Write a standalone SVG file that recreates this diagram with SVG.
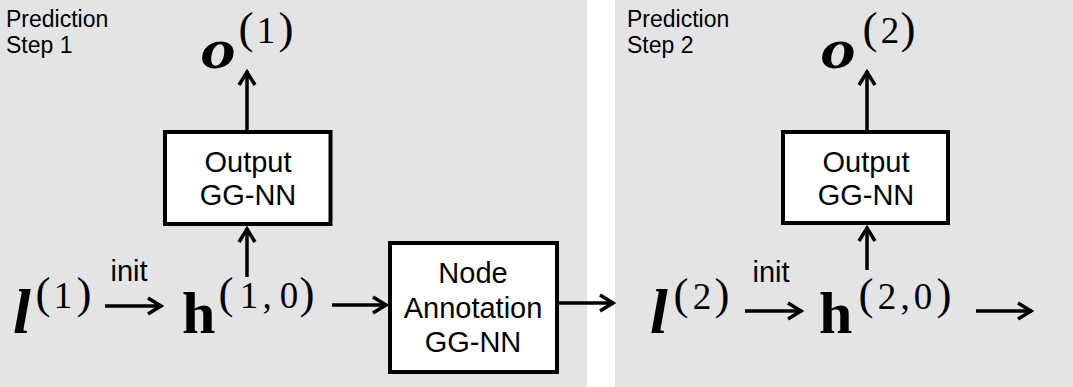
<svg xmlns="http://www.w3.org/2000/svg" width="1073" height="387" viewBox="0 0 1073 387">
  <style>
    .panel { fill: #e4e4e6; }
    .box { fill: #ffffff; stroke: #000000; stroke-width: 4; }
    .lbl { font-family: "Liberation Sans", Arial, sans-serif; fill: #000000; }
    .step { font-size: 23px; }
    .boxtxt { font-size: 29px; text-anchor: middle; }
    .init { font-size: 29px; text-anchor: middle; }
    .mth { font-family: "Liberation Serif", "Times New Roman", serif; fill: #000000; }
    .bi { font-weight: bold; font-style: italic; }
    .bold { font-weight: bold; }
    .par { font-size: 45px; text-anchor: middle; }
    .dig { font-size: 37px; text-anchor: middle; }
    .conn { stroke: #000000; stroke-width: 3.5; fill: none; }
  </style>
  <defs>
    <marker id="chev" viewBox="-16 -10 20 20" refX="1" refY="0" markerWidth="20" markerHeight="20" markerUnits="userSpaceOnUse" orient="auto">
      <path d="M -13 -8 L 0 0 L -13 8" fill="none" stroke="#000000" stroke-width="3.5"/>
    </marker>
  </defs>

  <!-- panel backgrounds -->
  <rect class="panel" x="0" y="0" width="587" height="387"/>
  <rect class="panel" x="615" y="0" width="458" height="387"/>

  <!-- step captions -->
  <g id="caption-step1">
    <text class="lbl step" x="6" y="27">Prediction</text>
    <text class="lbl step" x="6" y="53">Step 1</text>
  </g>
  <g id="caption-step2">
    <text class="lbl step" x="627" y="27">Prediction</text>
    <text class="lbl step" x="627" y="53">Step 2</text>
  </g>

  <!-- output o(1) -->
  <g id="o1">
    <text class="mth bi" x="201" y="68" font-size="56" textLength="35" lengthAdjust="spacingAndGlyphs">o</text>
    <text class="mth par" x="246" y="43">(</text>
    <text class="mth dig" x="266" y="43">1</text>
    <text class="mth par" x="286" y="43">)</text>
  </g>

  <!-- output o(2) -->
  <g id="o2">
    <text class="mth bi" x="821" y="68" font-size="56" textLength="35" lengthAdjust="spacingAndGlyphs">o</text>
    <text class="mth par" x="870" y="43">(</text>
    <text class="mth dig" x="890" y="43">2</text>
    <text class="mth par" x="908" y="43">)</text>
  </g>

  <!-- output networks -->
  <g id="output-ggnn-1">
    <rect class="box" x="165" y="132" width="165.5" height="92"/>
    <text class="lbl boxtxt" x="248" y="172">Output</text>
    <text class="lbl boxtxt" x="248" y="205">GG-NN</text>
  </g>
  <g id="output-ggnn-2">
    <rect class="box" x="783" y="132" width="165" height="91"/>
    <text class="lbl boxtxt" x="866" y="172">Output</text>
    <text class="lbl boxtxt" x="866" y="205">GG-NN</text>
  </g>

  <!-- node annotation network -->
  <g id="node-annotation-ggnn">
    <rect class="box" x="390" y="243" width="167" height="129"/>
    <text class="lbl boxtxt" x="473" y="283">Node</text>
    <text class="lbl boxtxt" x="473" y="318">Annotation</text>
    <text class="lbl boxtxt" x="473" y="352">GG-NN</text>
  </g>

  <!-- l(1) -->
  <g id="l1">
    <text class="mth bi" x="13" y="333" font-size="64">l</text>
    <text class="mth par" x="43" y="308">(</text>
    <text class="mth dig" x="63" y="308">1</text>
    <text class="mth par" x="84" y="308">)</text>
  </g>

  <!-- h(1,0) -->
  <g id="h10">
    <text class="mth bold" x="182" y="333" font-size="60">h</text>
    <text class="mth par" x="226" y="308">(</text>
    <text class="mth dig" x="249" y="308">1</text>
    <text class="mth dig" x="267" y="308">,</text>
    <text class="mth dig" x="289" y="308">0</text>
    <text class="mth par" x="307" y="308">)</text>
  </g>

  <!-- l(2) -->
  <g id="l2">
    <text class="mth bi" x="650" y="333" font-size="64">l</text>
    <text class="mth par" x="681" y="309">(</text>
    <text class="mth dig" x="702" y="309">2</text>
    <text class="mth par" x="722" y="309">)</text>
  </g>

  <!-- h(2,0) -->
  <g id="h20">
    <text class="mth bold" x="819" y="333" font-size="60">h</text>
    <text class="mth par" x="866" y="309">(</text>
    <text class="mth dig" x="887" y="309">2</text>
    <text class="mth dig" x="905" y="309">,</text>
    <text class="mth dig" x="923" y="309">0</text>
    <text class="mth par" x="944" y="309">)</text>
  </g>

  <!-- connectors -->
  <g id="connectors">
    <line class="conn" x1="247" y1="130" x2="247" y2="71" marker-end="url(#chev)"/>
    <line class="conn" x1="867" y1="130" x2="867" y2="71" marker-end="url(#chev)"/>
    <line class="conn" x1="247" y1="277" x2="247" y2="228" marker-end="url(#chev)"/>
    <line class="conn" x1="867" y1="270" x2="867" y2="227" marker-end="url(#chev)"/>
    <line class="conn" x1="105" y1="306" x2="162" y2="306" marker-end="url(#chev)"/>
    <text class="lbl init" x="129" y="281">init</text>
    <line class="conn" x1="332" y1="305" x2="387" y2="305" marker-end="url(#chev)"/>
    <line class="conn" x1="557" y1="303" x2="614" y2="303" marker-end="url(#chev)"/>
    <line class="conn" x1="745" y1="311" x2="802" y2="311" marker-end="url(#chev)"/>
    <text class="lbl init" x="771" y="282">init</text>
    <line class="conn" x1="976" y1="311" x2="1032" y2="311" marker-end="url(#chev)"/>
  </g>
</svg>
